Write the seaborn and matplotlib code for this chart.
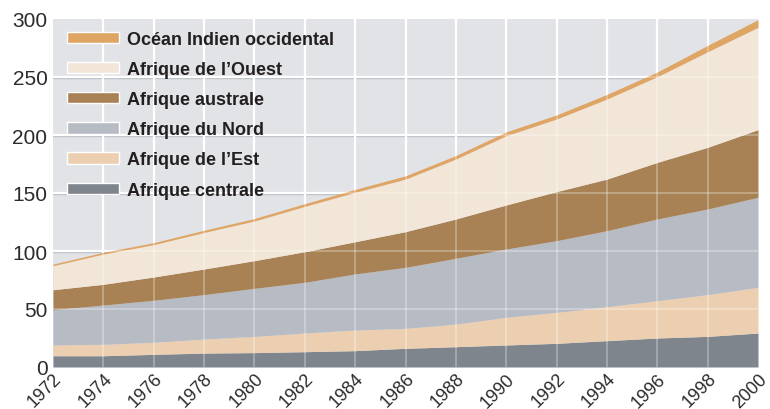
import numpy as np
import pandas as pd
import matplotlib.pyplot as plt
import seaborn as sns
from matplotlib.patches import Patch

years = [1972, 1974, 1976, 1978, 1980, 1982, 1984, 1986, 1988, 1990, 1992, 1994, 1996, 1998, 2000]

# values (stack order bottom -> top)
centrale = [9.7, 9.7, 10.9, 12.0, 12.4, 13.2, 14.1, 16.1, 17.5, 19.0, 20.4, 22.7, 25.0, 26.4, 29.3]
est = [9.3, 9.9, 10.4, 12.1, 14.0, 16.1, 17.8, 17.2, 19.5, 23.8, 26.7, 29.3, 32.2, 36.0, 39.4]
nord = [30.4, 33.8, 36.2, 38.3, 41.4, 43.7, 48.3, 52.6, 56.7, 58.9, 61.8, 65.5, 70.4, 73.8, 77.6]
australe = [17.2, 17.9, 20.1, 22.1, 23.9, 26.4, 27.8, 30.8, 33.9, 38.0, 42.3, 44.5, 48.8, 53.2, 58.3]
ouest = [20.7, 26.1, 27.9, 31.5, 34.2, 39.1, 42.6, 45.3, 51.7, 59.7, 62.6, 69.0, 73.9, 82.4, 88.2]
ocean = [1.4, 1.5, 1.7, 1.9, 2.1, 2.3, 2.5, 2.8, 3.0, 3.3, 3.5, 4.0, 4.0, 5.5, 6.6]

labels = ["Afrique centrale", "Afrique de l\u2019Est", "Afrique du Nord",
          "Afrique australe", "Afrique de l\u2019Ouest", "Océan Indien occidental"]
colors = ["#7f858c", "#eccfb0", "#b7bbc3", "#a88254", "#f2e6d8", "#dfa565"]

df = pd.DataFrame({"year": years, labels[0]: centrale, labels[1]: est, labels[2]: nord,
                   labels[3]: australe, labels[4]: ouest, labels[5]: ocean})

sns.set_theme(style="white")
plt.rcParams["font.family"] = ["Liberation Sans", "DejaVu Sans"]

fig = plt.figure(figsize=(7.7, 4.1), dpi=100)
ax = fig.add_axes([53 / 770, 42 / 410, 705 / 770, 348 / 410])
ax.set_facecolor("#e2e3e7")

# grid below the areas (with a soft shadow under the horizontal lines)
for v in range(50, 300, 50):
    ax.axhline(v - 1.0, color="#b9bdc5", lw=1.0, zorder=0.5)
    ax.axhline(v, color="white", lw=1.6, zorder=0.6)
for yr in range(1974, 2000, 2):
    ax.axvline(yr, color="white", lw=1.6, zorder=0.6)

ax.stackplot(df["year"], [df[l] for l in labels], colors=colors, lw=0, zorder=1)

# faint grid over the areas
for v in range(50, 300, 50):
    ax.axhline(v, color="white", lw=1.3, alpha=0.3, zorder=2)
for yr in range(1974, 2000, 2):
    ax.axvline(yr, color="white", lw=1.3, alpha=0.3, zorder=2)

ax.set_xlim(1972, 2000)
ax.set_ylim(0, 300)
ax.set_xticks(range(1972, 2001, 2))
ax.set_yticks(range(0, 301, 50))
ax.tick_params(axis="y", length=0, labelsize=15, labelcolor="#2b2b2b", pad=4)
ax.tick_params(axis="x", length=0, labelsize=13, labelcolor="#2b2b2b", pad=2)
for t in ax.get_xticklabels():
    t.set_rotation(45)
    t.set_ha("right")
    t.set_rotation_mode("anchor")
sns.despine(ax=ax, left=True, bottom=True)

handles = [Patch(facecolor=c, label=l) for c, l in zip(colors[::-1], labels[::-1])]
leg = ax.legend(handles=handles, loc="upper left", bbox_to_anchor=(0.009, 0.987),
                borderaxespad=0, frameon=False, handlelength=2.9, handleheight=0.6,
                handletextpad=0.45, labelspacing=0.73, prop={"weight": "bold", "size": 13})
for t in leg.get_texts():
    t.set_color("#231f20")

fig.savefig("out.png", dpi=100)
